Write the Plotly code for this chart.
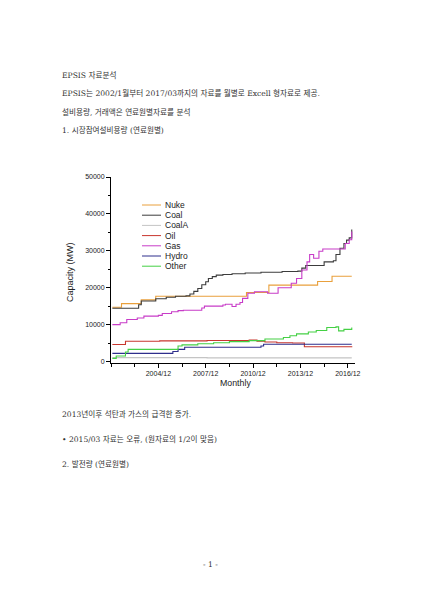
import plotly.graph_objects as go

# ---------------- data (step change points, monthly) ----------------
nuke_dates = ['2002-01', '2002-08', '2003-11', '2004-10', '2010-07', '2011-12', '2015-01', '2015-12', '2017-03']
nuke_vals = [14700, 15700, 16700, 17700, 18700, 20700, 21700, 23100, 23100]

coal_dates = ['2002-01', '2003-09', '2003-11', '2004-10', '2005-06', '2006-01', '2006-09', '2006-12', '2007-03',
              '2007-06', '2007-09', '2007-12', '2008-02', '2008-05', '2008-08', '2009-01', '2009-08', '2010-06',
              '2011-06', '2012-10', '2013-10', '2014-01', '2014-04', '2015-06', '2016-01', '2016-03', '2016-06',
              '2016-09', '2016-11', '2017-01', '2017-03']
coal_vals = [14450, 15400, 16400, 17000, 17400, 17700, 17800, 18300, 19000,
             19800, 20800, 21600, 22500, 23000, 23400, 23600, 23800, 24000,
             24200, 24400, 24500, 25300, 26000, 27000, 27300, 29000, 30700,
             32000, 32900, 33500, 35800]

coala_dates = ['2002-01', '2008-01', '2017-03']
coala_vals = [1050, 1000, 1000]

oil_dates = ['2002-01', '2002-11', '2005-01', '2008-01', '2010-09', '2011-03', '2011-09', '2012-06', '2013-06',
             '2014-03', '2017-03']
oil_vals = [4600, 5500, 5600, 5700, 5800, 5500, 5300, 5100, 5000, 4000, 3900]

gas_dates = ['2002-01', '2002-07', '2002-12', '2003-08', '2004-01', '2004-12', '2005-03', '2005-10', '2006-03',
             '2006-07', '2007-09', '2007-11', '2009-01', '2009-03', '2009-08', '2009-11', '2010-02', '2010-04',
             '2010-08', '2011-01', '2011-11', '2012-07', '2013-05', '2013-09', '2014-01', '2014-05', '2014-07',
             '2014-10', '2015-02', '2015-05', '2016-07', '2016-10', '2017-01', '2017-03']
gas_vals = [10000, 10500, 11400, 11800, 12300, 12500, 13000, 13500, 13800,
            13900, 14500, 15000, 15300, 15500, 14900, 15500, 16000, 17100,
            18500, 18900, 18500, 20000, 21200, 22500, 24800, 27000, 29000,
            28000, 29900, 30500, 30500, 32000, 33000, 35200]

hydro_dates = ['2002-01', '2005-11', '2006-03', '2006-08', '2011-06', '2011-08', '2017-03']
hydro_vals = [2200, 2700, 3300, 3850, 4200, 4700, 4700]

other_dates = ['2002-01', '2002-04', '2002-11', '2003-01', '2006-03', '2006-06', '2007-06', '2008-06', '2009-06',
               '2010-09', '2011-09', '2012-11', '2013-04', '2013-09', '2014-06', '2014-12', '2015-08', '2016-03',
               '2016-05', '2016-09', '2017-03']
other_vals = [850, 1500, 2600, 3300, 4200, 4500, 4800, 5100, 5400,
              5650, 6100, 6500, 7000, 7500, 8000, 8400, 9200, 9400,
              8300, 8700, 9200]

series_names = ['Nuke', 'Coal', 'CoalA', 'Oil', 'Gas', 'Hydro', 'Other']
series_dates = [nuke_dates, coal_dates, coala_dates, oil_dates, gas_dates, hydro_dates, other_dates]
series_vals = [nuke_vals, coal_vals, coala_vals, oil_vals, gas_vals, hydro_vals, other_vals]
series_colors = ['#E9A03C', '#3C3C3C', '#C4C4C4', '#C8362E', '#C83CC8', '#2E2E8C', '#44D044']

x_tick_vals = ['2004-12-01', '2007-12-01', '2010-12-01', '2013-12-01', '2016-12-01']
x_tick_text = ['2004/12', '2007/12', '2010/12', '2013/12', '2016/12']
x_minor_vals = ['2001-12-01', '2003-06-01', '2006-06-01', '2009-06-01', '2012-06-01', '2015-06-01']

doc_top = [
    'EPSIS 자료분석',
    'EPSIS는 2002/1월부터 2017/03까지의 자료를 월별로 Excell 형자료로 제공.',
    '설비용량, 거래액은 연료원별자료를 분석',
    '1. 시장참여설비용량 (연료원별)',
]
doc_bottom = [
    '2013년이후 석탄과 가스의 급격한 증가.',
    '• 2015/03 자료는 오류, (원자료의 1/2이 맞음)',
    '2. 발전량 (연료원별)',
]

# ---------------- layout geometry (page pixels; body has 8px margin) ----------------
OFF = 8
W, H = 424 - 2 * OFF, 599 - 2 * OFF
L, R, T, B = 111, 355, 177, 363   # plot area in page pixels


def px(x):
    return (x - L) / (R - L)


def py(y):
    return (B - y) / (B - T)


fig = go.Figure()
for name, d, v, c in zip(series_names, series_dates, series_vals, series_colors):
    fig.add_trace(go.Scatter(
        x=[s + '-01' for s in d], y=v, name=name, mode='lines',
        line=dict(color=c, width=1.1, shape='hv'), showlegend=False,
    ))

ann = []
shapes = []
txt_font = dict(family='DejaVu Serif, Noto Sans CJK KR', size=7.6, color='#333333')
for i, t in enumerate(doc_top):
    ann.append(dict(text=t, x=px(60), y=py([75, 93, 112, 130][i]), xref='paper', yref='paper',
                    xanchor='left', yanchor='middle', showarrow=False, font=txt_font))
for i, t in enumerate(doc_bottom):
    ann.append(dict(text=t, x=px(60), y=py([414, 439, 464][i]), xref='paper', yref='paper',
                    xanchor='left', yanchor='middle', showarrow=False, font=txt_font))
ann.append(dict(text='- 1 -', x=px(210), y=py(564), xref='paper', yref='paper',
                xanchor='center', yanchor='middle', showarrow=False, font=txt_font))

# axis titles
ann.append(dict(text='Capacity (MW)', x=px(70), y=py(272), xref='paper', yref='paper', textangle=-90,
                xanchor='center', yanchor='middle', showarrow=False,
                font=dict(family='Liberation Sans', size=9, color='#222222')))
ann.append(dict(text='Monthly', x=px(235), y=py(383), xref='paper', yref='paper',
                xanchor='center', yanchor='middle', showarrow=False,
                font=dict(family='Liberation Sans', size=8.8, color='#222222')))

# manual legend
leg_y0 = 205
leg_dy = 10.2
for i, (name, c) in enumerate(zip(series_names, series_colors)):
    yy = leg_y0 + i * leg_dy
    shapes.append(dict(type='line', xref='paper', yref='paper', x0=px(142), x1=px(161),
                       y0=py(yy), y1=py(yy), line=dict(color=c, width=1)))
    ann.append(dict(text=name, x=px(162.5), y=py(yy), xref='paper', yref='paper',
                    xanchor='left', yanchor='middle', showarrow=False,
                    font=dict(family='Liberation Sans', size=8.5, color='#222222')))

fig.update_layout(
    width=W, height=H, autosize=False,
    margin=dict(l=L - OFF, r=W - (R - OFF), t=T - OFF, b=H - (B - OFF), pad=0),
    paper_bgcolor='white', plot_bgcolor='white',
    annotations=ann, shapes=shapes, showlegend=False,
    xaxis=dict(
        type='date', range=['2001-12-01', '2017-05-15'],
        tickmode='array', tickvals=x_tick_vals, ticktext=x_tick_text,
        ticks='outside', ticklen=4, tickcolor='black', tickwidth=1,
        minor=dict(tickmode='array', tickvals=x_minor_vals, ticks='outside', ticklen=3, tickcolor='black'),
        showline=True, linecolor='black', linewidth=1, showgrid=False, zeroline=False,
        tickfont=dict(family='Liberation Sans', size=7, color='#222222'),
    ),
    yaxis=dict(
        range=[-400, 50000], tickmode='linear', tick0=0, dtick=10000,
        ticks='outside', ticklen=4, tickcolor='black', tickwidth=1,
        minor=dict(dtick=5000, ticks='outside', ticklen=2, tickcolor='black'),
        showline=True, linecolor='black', linewidth=1, showgrid=False, zeroline=False,
        tickfont=dict(family='Liberation Sans', size=7, color='#222222'),
        tickformat='d',
    ),
)

fig.write_html('out.html')
